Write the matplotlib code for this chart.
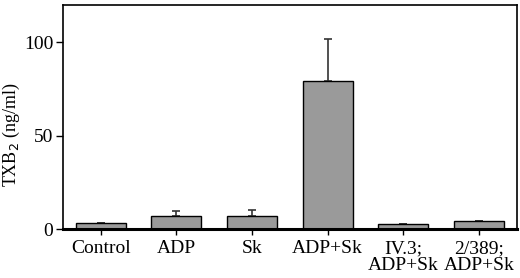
import matplotlib
matplotlib.use("Agg")
import matplotlib.pyplot as plt

# TXB2 release per treatment
categories = ['Control', 'ADP', 'Sk', 'ADP+Sk', 'IV.3;\nADP+Sk', '2/389;\nADP+Sk']
txb2 = [3.4, 7.2, 6.8, 79.5, 2.6, 4.3]
err_up = [0, 2.6, 3.2, 22.5, 0, 0]

plt.rcParams['font.family'] = ['Liberation Serif', 'DejaVu Serif']

fig = plt.figure(figsize=(5.2, 2.78), dpi=100)
ax = fig.add_axes([0.121, 0.176, 0.873, 0.806])

x = range(len(categories))
lower = [0] * len(err_up)
ax.bar(x, txb2, width=0.66, color='#9a9a9a', edgecolor='black', linewidth=1.0, zorder=2)
ax.errorbar(x, txb2, yerr=[lower, err_up], fmt='none', ecolor='#333333',
            elinewidth=1.2, capsize=3, capthick=1.2, zorder=1)

ax.set_xlim(-0.5, 5.5)
ax.set_ylim(0, 120)
ax.set_yticks([0, 50, 100])
ax.set_xticks(list(x))
ax.set_xticklabels(categories, fontsize=14, linespacing=1.0)
ax.tick_params(axis='y', labelsize=14, direction='out', length=5, width=1, pad=2)
ax.tick_params(axis='x', direction='out', length=4, width=1, pad=4)
ax.set_ylabel('TXB$_2$ (ng/ml)', fontsize=13)
ax.yaxis.set_label_coords(-0.09, 0.42)

for side in ['top', 'right', 'left']:
    ax.spines[side].set_linewidth(1.2)
ax.spines['bottom'].set_linewidth(2.2)

fig.savefig('out.png', dpi=100)
